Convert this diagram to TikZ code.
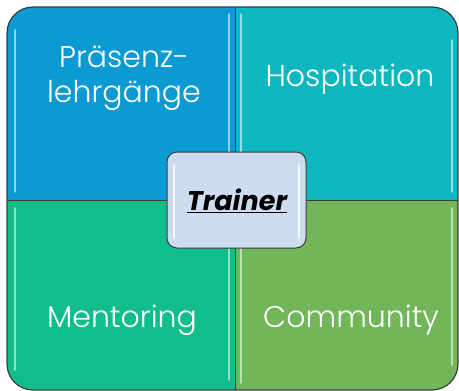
\documentclass[tikz,border=0pt]{standalone}
\usepackage{fontspec}
\setmainfont{Poppins}
\newfontfamily\thinfont{Poppins Light}
\usepackage{xcolor}

\definecolor{blueq}{RGB}{11,154,212}
\definecolor{tealq}{RGB}{12,183,192}
\definecolor{greenq}{RGB}{17,190,139}
\definecolor{leafq}{RGB}{113,183,89}
\definecolor{trainerbg}{RGB}{205,220,238}
\definecolor{rimline}{RGB}{60,60,60}

\tikzset{
    label/.style={text=white, font=\thinfont\fontsize{30}{35}\selectfont, align=center},
    shine/.style={white, opacity=0.55, line width=1.6pt, line cap=round}
}

\begin{document}
\begin{tikzpicture}[x=1pt,y=-1pt]
    \useasboundingbox (0,0) rectangle (459,391);

    \begin{scope}
        \clip[rounded corners=26] (7,7) rectangle (458,390);
        \fill[blueq] (7,7) rectangle (235,200);
        \fill[tealq] (235,7) rectangle (458,200);
        \fill[greenq] (7,200) rectangle (235,390);
        \fill[leafq] (235,200) rectangle (458,390);
    \end{scope}

    % glossy edges
    \draw[shine] (15,30) -- (15,192);
    \draw[shine] (229,14) -- (229,192);
    \draw[shine] (241,14) -- (241,192);
    \draw[shine] (452,40) -- (452,192);
    \draw[shine] (15,208) -- (15,370);
    \draw[shine] (229,208) -- (229,380);
    \draw[shine] (241,208) -- (241,383);
    \draw[shine] (452,208) -- (452,365);

    \draw[rimline, line width=1pt] (235,7) -- (235,390);
    \draw[rimline, line width=1pt] (7,200) -- (458,200);
    \draw[rimline, line width=1.2pt, rounded corners=26] (7,7) rectangle (458,390);

    \node[label] (pres) at (124,78) {Präsenz-\\lehrgänge};
    \node[label] (hosp) at (350,79) {Hospitation};
    \node[label] (ment) at (122,320) {Mentoring};
    \node[label] (comm) at (351,320) {Community};

    \draw[fill=trainerbg, draw=rimline, line width=1pt, rounded corners=10] (167,152) rectangle (306,248);
    \draw[shine, opacity=0.8] (174,165) -- (174,238);
    \draw[shine, opacity=0.8] (299,165) -- (299,238);
    \node[font=\bfseries\itshape\fontsize{27}{30}\selectfont] (trainer) at (237,201) {\underline{Trainer}};
\end{tikzpicture}
\end{document}
